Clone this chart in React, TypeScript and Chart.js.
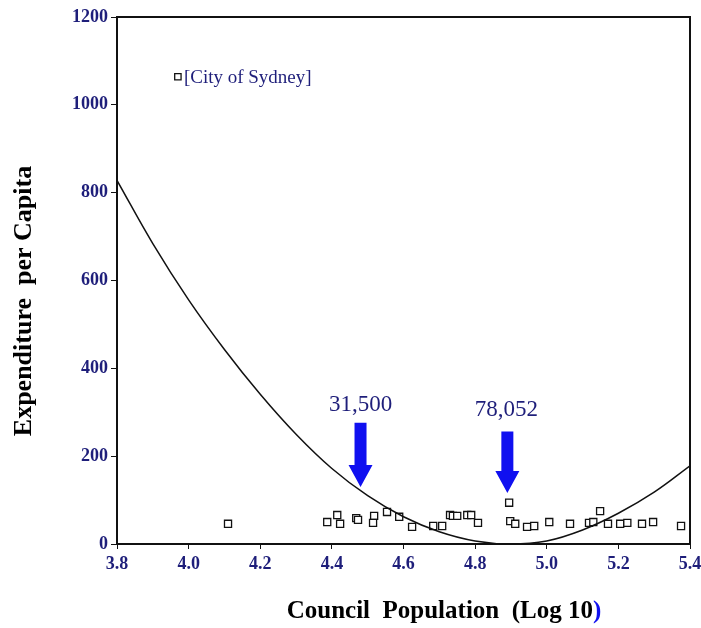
import React, { useEffect, useRef } from "react";
import { Chart, registerables } from "chart.js";

Chart.register(...registerables);

// Fitted curve
const curveX = [3.8, 3.9, 4.0, 4.1, 4.2, 4.3, 4.4, 4.5, 4.6, 4.7, 4.8, 4.9, 5.0, 5.1, 5.2, 5.3, 5.4];
const curveY = [828, 684, 556, 443, 341, 250, 172, 110, 62, 28, 7, 0, 7, 32, 70, 118, 178];

// Council observations (log10 population, expenditure per capita)
const councilX = [4.11, 4.387, 4.415, 4.423, 4.468, 4.473, 4.518, 4.515, 4.554, 4.588, 4.624, 4.683, 4.708, 4.73, 4.738, 4.75, 4.778, 4.789, 4.808, 4.895, 4.898, 4.912, 4.945, 4.965, 5.007, 5.065, 5.118, 5.13, 5.149, 5.171, 5.205, 5.225, 5.266, 5.297, 5.375];
const councilY = [46, 50, 66, 46, 59, 55, 64, 48, 73, 62, 39, 41, 41, 66, 64, 64, 66, 66, 48, 94, 52, 46, 39, 41, 50, 46, 48, 50, 75, 46, 46, 48, 46, 50, 41];

// Outlier
const sydneyX = [3.97];
const sydneyY = [1064];
const sydneyLabel = "[City of Sydney]";

// Arrow annotations
const arrowX = [4.48, 4.89];
const arrowTopY = [276, 256];
const arrowTipY = [130, 116];
const arrowLabelX = [4.48, 4.887];
const arrowLabelY = [317, 306];
const arrowLabels = ["31,500", "78,052"];

const xTicks = [3.8, 4.0, 4.2, 4.4, 4.6, 4.8, 5.0, 5.2, 5.4];
const yTicks = [0, 200, 400, 600, 800, 1000, 1200];

const NAVY = "#1e1e7a";
const SERIF = "'Liberation Serif', 'DejaVu Serif', serif";

const decor = {
  id: "decor",
  afterDraw(chart: any) {
    const ctx = chart.ctx;
    const { left, right, top, bottom } = chart.chartArea;
    const xs = chart.scales.x;
    const ys = chart.scales.y;
    ctx.save();
    // frame top & right
    ctx.strokeStyle = "#111";
    ctx.lineWidth = 2;
    ctx.beginPath();
    ctx.moveTo(left, top);
    ctx.lineTo(right, top);
    ctx.lineTo(right, bottom);
    ctx.stroke();

    // Sydney label
    ctx.fillStyle = NAVY;
    ctx.font = `19px ${SERIF}`;
    ctx.textAlign = "left";
    ctx.textBaseline = "middle";
    ctx.fillText(sydneyLabel, xs.getPixelForValue(sydneyX[0]) + 6, ys.getPixelForValue(sydneyY[0]) + 1);

    // arrows
    for (let i = 0; i < arrowX.length; i++) {
      const cx = xs.getPixelForValue(arrowX[i]);
      const yTop = ys.getPixelForValue(arrowTopY[i]);
      const yTip = ys.getPixelForValue(arrowTipY[i]);
      const headH = 22;
      const shaftW = 6;
      const headW = 12;
      ctx.fillStyle = "#1010f0";
      ctx.beginPath();
      ctx.moveTo(cx - shaftW, yTop);
      ctx.lineTo(cx + shaftW, yTop);
      ctx.lineTo(cx + shaftW, yTip - headH);
      ctx.lineTo(cx + headW, yTip - headH);
      ctx.lineTo(cx, yTip);
      ctx.lineTo(cx - headW, yTip - headH);
      ctx.lineTo(cx - shaftW, yTip - headH);
      ctx.closePath();
      ctx.fill();
      ctx.fillStyle = NAVY;
      ctx.font = `23px ${SERIF}`;
      ctx.textAlign = "center";
      ctx.textBaseline = "middle";
      ctx.fillText(arrowLabels[i], xs.getPixelForValue(arrowLabelX[i]), ys.getPixelForValue(arrowLabelY[i]));
    }

    // x title with blue closing paren
    ctx.font = `bold 25px ${SERIF}`;
    ctx.textBaseline = "middle";
    ctx.textAlign = "left";
    const main = "Council  Population  (Log 10";
    const w1 = ctx.measureText(main).width;
    const w2 = ctx.measureText(")").width;
    const startX = 444 - (w1 + w2) / 2;
    ctx.fillStyle = "#000";
    ctx.fillText(main, startX, 612);
    ctx.fillStyle = "#1010f0";
    ctx.fillText(")", startX + w1, 612);

    // y title
    ctx.translate(24, 301);
    ctx.rotate(-Math.PI / 2);
    ctx.fillStyle = "#000";
    ctx.textAlign = "center";
    ctx.font = `bold 26px ${SERIF}`;
    ctx.fillText("Expenditure  per Capita", 0, 0);
    ctx.restore();
  },
};

export default function App() {
  const ref = useRef<HTMLCanvasElement>(null);
  useEffect(() => {
    if (!ref.current) return;
    const chart = new Chart(ref.current, {
      type: "scatter",
      data: {
        datasets: [
          {
            type: "line",
            data: curveX.map((x, i) => ({ x, y: curveY[i] })),
            borderColor: "#111",
            borderWidth: 1.5,
            pointRadius: 0,
            fill: false,
            tension: 0.4,
          } as any,
          {
            data: councilX.map((x, i) => ({ x, y: councilY[i] })),
            pointStyle: "rect",
            pointRadius: 5,
            borderColor: "#111",
            borderWidth: 1.3,
            backgroundColor: "#fff",
          },
          {
            data: sydneyX.map((x, i) => ({ x, y: sydneyY[i] })),
            pointStyle: "rect",
            pointRadius: 4.5,
            borderColor: "#111",
            borderWidth: 1.3,
            backgroundColor: "#fff",
          },
        ],
      },
      options: {
        animation: false,
        responsive: false,
        maintainAspectRatio: false,
        layout: { padding: { top: 17, right: 11, left: 0, bottom: 0 } },
        plugins: { legend: { display: false }, tooltip: { enabled: false } },
        scales: {
          x: {
            type: "linear",
            min: 3.8,
            max: 5.4,
            afterBuildTicks: (s: any) => {
              s.ticks = xTicks.map((v) => ({ value: v }));
            },
            afterFit: (s: any) => {
              s.height = 84;
              s.paddingLeft = 0;
              s.paddingRight = 0;
            },
            ticks: {
              color: NAVY,
              font: { family: SERIF, size: 18, weight: "bold" },
              padding: 5,
              callback: (v: any) => Number(v).toFixed(1),
              maxRotation: 0,
            },
            grid: { drawOnChartArea: false, drawTicks: true, tickLength: 5, color: "#111" },
            border: { color: "#111", width: 2 },
          },
          y: {
            type: "linear",
            min: 0,
            max: 1200,
            afterBuildTicks: (s: any) => {
              s.ticks = yTicks.map((v) => ({ value: v }));
            },
            afterFit: (s: any) => {
              s.width = 117;
              s.paddingTop = 0;
              s.paddingBottom = 0;
            },
            ticks: {
              color: NAVY,
              font: { family: SERIF, size: 18, weight: "bold" },
              padding: 3,
              callback: (v: any) => String(v),
            },
            grid: { drawOnChartArea: false, drawTicks: true, tickLength: 6, color: "#111" },
            border: { color: "#111", width: 2 },
          },
        },
      },
      plugins: [decor],
    });
    return () => chart.destroy();
  }, []);
  return (
    <div style={{ position: "fixed", left: 0, top: 0, width: 701, height: 628, background: "#fff" }}>
      <canvas ref={ref} width={701} height={628} style={{ display: "block" }} />
    </div>
  );
}
